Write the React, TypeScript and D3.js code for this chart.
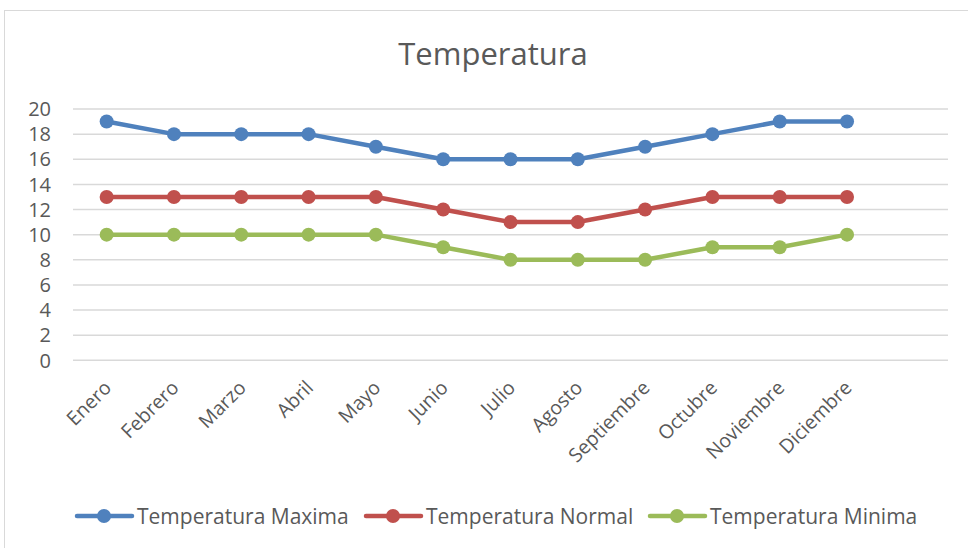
import React, { useEffect, useRef } from 'react';
import * as d3 from 'd3';

const months = ['Enero', 'Febrero', 'Marzo', 'Abril', 'Mayo', 'Junio', 'Julio', 'Agosto', 'Septiembre', 'Octubre', 'Noviembre', 'Diciembre'];
const tempMax = [19, 18, 18, 18, 17, 16, 16, 16, 17, 18, 19, 19];
const tempNormal = [13, 13, 13, 13, 13, 12, 11, 11, 12, 13, 13, 13];
const tempMin = [10, 10, 10, 10, 10, 9, 8, 8, 8, 9, 9, 10];
const yTicks = [0, 2, 4, 6, 8, 10, 12, 14, 16, 18, 20];

const seriesList = [
  { name: 'Temperatura Maxima', values: tempMax, color: '#4F81BD' },
  { name: 'Temperatura Normal', values: tempNormal, color: '#C0504D' },
  { name: 'Temperatura Minima', values: tempMin, color: '#9BBB59' }
];

function App() {
  const svgRef = useRef<SVGSVGElement>(null);

  useEffect(() => {
    const width = 968, height = 548;
    const svg = d3.select(svgRef.current);
    svg.selectAll('*').remove();
    svg.attr('width', width).attr('height', height);

    const font = '"Open Sans", sans-serif';
    const textColor = '#595959';

    svg.append('rect')
      .attr('x', 4.5).attr('y', 10.5)
      .attr('width', 1000).attr('height', 600)
      .attr('fill', 'white')
      .attr('stroke', '#d9d9d9');

    // 13 slots, last one empty (as in the original)
    const x = d3.scaleLinear().domain([0, 13]).range([73, 948]);
    const y = d3.scaleLinear().domain([0, 20]).range([360.3, 109]);

    svg.append('text')
      .attr('x', 493).attr('y', 65)
      .attr('text-anchor', 'middle')
      .attr('font-family', font)
      .attr('font-size', 31)
      .attr('fill', textColor)
      .text('Temperatura');

    const grid = svg.append('g');
    grid.selectAll('line')
      .data(yTicks)
      .join('line')
      .attr('x1', x(0)).attr('x2', x(13))
      .attr('y1', d => y(d)).attr('y2', d => y(d))
      .attr('stroke', '#d9d9d9')
      .attr('stroke-width', 1.5);

    grid.selectAll('text')
      .data(yTicks)
      .join('text')
      .attr('x', 51)
      .attr('y', d => y(d))
      .attr('dy', '0.36em')
      .attr('text-anchor', 'end')
      .attr('font-family', font)
      .attr('font-size', 20)
      .attr('fill', textColor)
      .text(d => d);

    svg.append('g').selectAll('text')
      .data(months)
      .join('text')
      .attr('transform', (d, i) => `translate(${x(i + 0.5) + 6},${389}) rotate(-45)`)
      .attr('text-anchor', 'end')
      .attr('font-family', font)
      .attr('font-size', 19.5)
      .attr('fill', textColor)
      .text(d => d);

    const line = d3.line<number>()
      .x((d, i) => x(i + 0.5))
      .y(d => y(d));

    seriesList.forEach(s => {
      const g = svg.append('g');
      g.append('path')
        .attr('d', line(s.values))
        .attr('fill', 'none')
        .attr('stroke', s.color)
        .attr('stroke-width', 4.5)
        .attr('stroke-linejoin', 'round')
        .attr('stroke-linecap', 'round');
      g.selectAll('circle')
        .data(s.values)
        .join('circle')
        .attr('cx', (d, i) => x(i + 0.5))
        .attr('cy', d => y(d))
        .attr('r', 7)
        .attr('fill', s.color);
    });

    const legendX = [77, 366, 650];
    const legend = svg.append('g');
    seriesList.forEach((s, i) => {
      const lx = legendX[i];
      const ly = 516;
      legend.append('line')
        .attr('x1', lx).attr('x2', lx + 55)
        .attr('y1', ly).attr('y2', ly)
        .attr('stroke', s.color)
        .attr('stroke-width', 4.5)
        .attr('stroke-linecap', 'round');
      legend.append('circle')
        .attr('cx', lx + 27).attr('cy', ly)
        .attr('r', 7)
        .attr('fill', s.color);
      legend.append('text')
        .attr('x', lx + 60).attr('y', ly)
        .attr('dy', '0.36em')
        .attr('font-family', font)
        .attr('font-size', 21)
        .attr('fill', textColor)
        .text(s.name);
    });
  }, []);

  return (
    <svg ref={svgRef} style={{ position: 'absolute', left: 0, top: 0, display: 'block' }}></svg>
  );
}

export default App;
